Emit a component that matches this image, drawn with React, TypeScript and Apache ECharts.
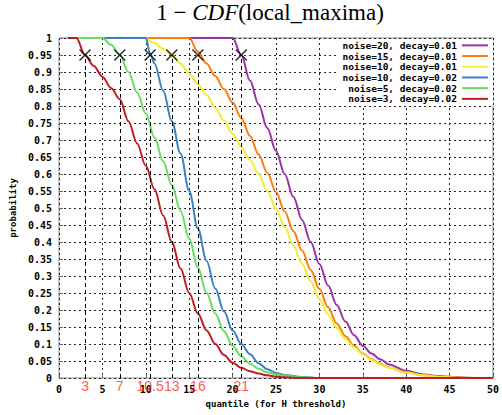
import React, { useEffect, useRef } from 'react';
import * as echarts from 'echarts';

const seriesNames = [
  'noise=20, decay=0.01',
  'noise=15, decay=0.01',
  'noise=10, decay=0.01',
  'noise=10, decay=0.02',
  'noise=5, decay=0.02',
  'noise=3, decay=0.02',
];
const seriesColors = ['#9a32a8', '#ff7a10', '#f2ee32', '#3a82c2', '#66dd5e', '#c21c22'];

const purpleX = [15, 20, 21, 22, 23, 24, 25, 26, 27, 28, 29, 30, 31, 32, 33, 34, 35, 36, 37, 38, 40, 42, 44, 46, 48, 50];
const purpleY = [1, 1, 0.95, 0.875, 0.805, 0.735, 0.668, 0.6, 0.533, 0.465, 0.4, 0.335, 0.272, 0.215, 0.166, 0.126, 0.095, 0.072, 0.055, 0.04, 0.021, 0.01, 0.005, 0.002, 0, 0];

const orangeX = [10, 15, 16, 17, 18, 19, 20, 21, 22, 23, 24, 25, 26, 27, 28, 29, 30, 31, 32, 33, 34, 35, 36, 37, 38, 40, 42, 44, 46, 50];
const orangeY = [1, 1, 0.96, 0.925, 0.888, 0.85, 0.81, 0.765, 0.712, 0.657, 0.603, 0.547, 0.49, 0.432, 0.375, 0.318, 0.262, 0.208, 0.16, 0.123, 0.094, 0.072, 0.055, 0.042, 0.031, 0.016, 0.008, 0.004, 0.001, 0];

const yellowX = [10, 11, 12, 13, 14, 15, 16, 17, 18, 19, 20, 21, 22, 23, 24, 25, 26, 27, 28, 29, 30, 31, 32, 33, 34, 35, 36, 37, 38, 40, 42, 44, 46, 50];
const yellowY = [1, 0.985, 0.968, 0.95, 0.925, 0.895, 0.865, 0.832, 0.795, 0.757, 0.718, 0.68, 0.642, 0.6, 0.55, 0.498, 0.444, 0.39, 0.336, 0.284, 0.233, 0.186, 0.147, 0.115, 0.09, 0.07, 0.053, 0.04, 0.03, 0.016, 0.008, 0.003, 0.001, 0];

const blueX = [5, 10, 10.5, 11, 12, 13, 14, 15, 16, 17, 18, 19, 20, 21, 22, 23, 24, 25, 26, 28, 30, 50];
const blueY = [1, 1, 0.955, 0.925, 0.845, 0.755, 0.66, 0.55, 0.44, 0.345, 0.263, 0.196, 0.14, 0.1, 0.07, 0.043, 0.026, 0.015, 0.009, 0.003, 0, 0];

const greenX = [2, 5, 6, 7, 8, 9, 10, 11, 12, 13, 14, 15, 16, 17, 18, 19, 20, 21, 22, 23, 24, 25, 26, 28, 30, 50];
const greenY = [1, 1, 0.98, 0.95, 0.9, 0.84, 0.778, 0.707, 0.637, 0.567, 0.492, 0.41, 0.325, 0.25, 0.19, 0.138, 0.095, 0.064, 0.042, 0.027, 0.017, 0.01, 0.007, 0.002, 0, 0];

const redX = [1, 2, 3, 4, 5, 6, 7, 8, 9, 10, 11, 12, 13, 14, 15, 16, 17, 18, 19, 20, 21, 22, 23, 24, 25, 26, 28, 30, 50];
const redY = [1, 1, 0.95, 0.918, 0.886, 0.853, 0.82, 0.755, 0.69, 0.624, 0.555, 0.478, 0.4, 0.322, 0.25, 0.19, 0.14, 0.1, 0.068, 0.045, 0.03, 0.02, 0.013, 0.008, 0.004, 0.002, 0, 0, 0];

const allX = [purpleX, orangeX, yellowX, blueX, greenX, redX];
const allY = [purpleY, orangeY, yellowY, blueY, greenY, redY];

const markerX = [3, 7, 10.5, 13, 16, 21];
const markerLabels = ['3', '7', '10.5', '13', '16', '21'];
const markerLevel = 0.95;

const mono = 'DejaVu Sans Mono';

function buildOption() {
  const lines = seriesNames.map((name, k) => ({
    type: 'line',
    name,
    data: allX[k].map((x, i) => [x, allY[k][i]]),
    symbol: 'none',
    showSymbol: false,
    smooth: 0.35,
    smoothMonotone: 'x',
    lineStyle: { color: seriesColors[k], width: 2 },
    itemStyle: { color: seriesColors[k] },
    z: 3,
  }));

  const markers = {
    type: 'scatter',
    name: 'markers',
    data: markerX.map((x) => [x, markerLevel]),
    symbol: 'path://M0,0L10,10M10,0L0,10',
    symbolSize: 11,
    itemStyle: { color: 'none', borderColor: '#000', borderWidth: 1.6 },
    z: 6,
    markLine: {
      silent: true,
      symbol: 'none',
      label: { show: false },
      lineStyle: { color: '#000', type: [4, 3], width: 1 },
      data: markerX.map((x) => [{ coord: [x, 0] }, { coord: [x, markerLevel] }]),
    },
  };

  const labels = {
    type: 'scatter',
    name: 'labels',
    data: markerX.map((x, i) => ({
      value: [x, 0],
      label: { formatter: markerLabels[i] },
    })),
    symbolSize: 1,
    itemStyle: { color: 'rgba(0,0,0,0)' },
    label: {
      show: true,
      position: 'bottom',
      distance: 0,
      color: '#ff2a12',
      fontSize: 14,
      fontFamily: 'Liberation Sans',
    },
    z: 7,
  };

  return {
    animation: false,
    backgroundColor: '#fff',
    title: {
      text: '{a|1 − }{b|CDF}{a|(local_maxima)}',
      left: 270,
      textAlign: 'center',
      top: 1,
      padding: 0,
      textStyle: {
        fontWeight: 'normal',
        rich: {
          a: { fontFamily: 'Liberation Serif', fontSize: 23, fontWeight: 'normal', color: '#000' },
          b: { fontFamily: 'Liberation Serif', fontSize: 23, fontWeight: 'normal', fontStyle: 'italic', color: '#000' },
        },
      },
    },
    legend: {
      data: seriesNames,
      orient: 'vertical',
      right: 9,
      top: 39,
      align: 'right',
      icon: 'rect',
      itemWidth: 26,
      itemHeight: 2,
      itemGap: 0,
      padding: [1, 5, 1, 5],
      backgroundColor: '#fff',
      textStyle: { fontFamily: mono, fontWeight: 'bold', fontSize: 9.5, color: '#000', lineHeight: 10.7 },
    },
    grid: {
      left: 59,
      top: 38,
      width: 440,
      height: 340,
      show: true,
      borderColor: '#888',
      borderWidth: 1,
      backgroundColor: 'rgba(0,0,0,0)',
    },
    xAxis: {
      type: 'value',
      min: 0,
      max: 50,
      interval: 5,
      name: 'quantile (for H threshold)',
      nameLocation: 'middle',
      nameGap: 21,
      nameTextStyle: { fontFamily: mono, fontWeight: 'bold', fontSize: 9, color: '#000' },
      axisLine: { show: false },
      axisTick: { show: true, inside: true, length: 4, lineStyle: { color: '#666' } },
      axisLabel: { fontFamily: mono, fontWeight: 'bold', fontSize: 10, color: '#000', margin: 6 },
      splitLine: { show: true, lineStyle: { color: '#222', type: [2, 3], width: 1 } },
    },
    yAxis: {
      type: 'value',
      min: 0,
      max: 1,
      interval: 0.05,
      name: 'probability',
      nameLocation: 'middle',
      nameGap: 39,
      nameTextStyle: { fontFamily: mono, fontWeight: 'bold', fontSize: 9, color: '#000' },
      axisLine: { show: false },
      axisTick: { show: true, inside: true, length: 4, lineStyle: { color: '#666' } },
      axisLabel: { fontFamily: mono, fontWeight: 'bold', fontSize: 10, color: '#000', margin: 7 },
      splitLine: { show: true, lineStyle: { color: '#222', type: [2, 3], width: 1 } },
    },
    series: [...lines, markers, labels],
  };
}

export default function App() {
  const ref = useRef<HTMLDivElement>(null);
  useEffect(() => {
    if (!ref.current) return;
    const chart = echarts.init(ref.current, null, { renderer: 'svg' });
    chart.setOption(buildOption() as any);
    return () => chart.dispose();
  }, []);
  return (
    <div
      ref={ref}
      style={{ width: 502, height: 415, position: 'absolute', left: 0, top: 0 }}
    />
  );
}
